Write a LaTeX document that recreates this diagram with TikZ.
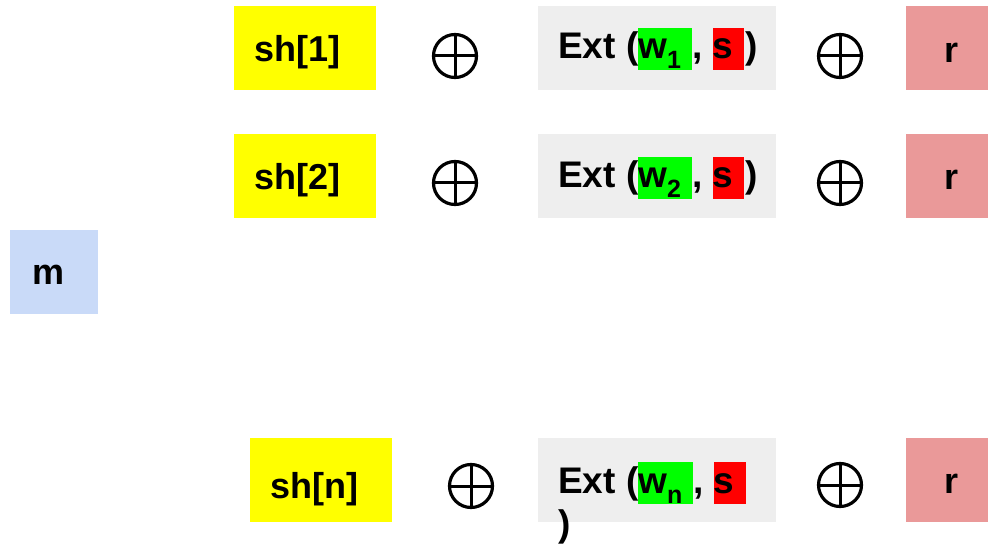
\documentclass[tikz,border=0pt]{standalone}
\usepackage{fontspec}
\setmainfont{Liberation Sans}

\definecolor{shyellow}{HTML}{FFFF00}
\definecolor{mblue}{HTML}{C9DAF8}
\definecolor{extgray}{HTML}{EEEEEE}
\definecolor{rpink}{HTML}{EA9999}
\definecolor{wgreen}{HTML}{00FF00}
\definecolor{sred}{HTML}{FF0000}

% highlighted run of text (zero padding, fixed line height)
\newcommand{\hlrun}[2]{{\setlength{\fboxsep}{0pt}\colorbox{#1}{\rule[-11pt]{0pt}{42pt}#2}}}
% lowered subscript
\newcommand{\lowsub}[1]{\raisebox{-10pt}{\fontsize{25}{25}\selectfont #1}}
% one Ext(...) expression
\newcommand{\extof}[1]{Ext (\hlrun{wgreen}{w\lowsub{#1}\hspace{11pt}}, \hlrun{sred}{s\hspace{11pt}}\hspace{1pt})}

\tikzset{
  panel/.style={rectangle, inner sep=0pt, minimum height=84pt},
  shbox/.style={panel, fill=shyellow, minimum width=142pt},
  extbox/.style={panel, fill=extgray, minimum width=238pt},
  rbox/.style={panel, fill=rpink, minimum width=82pt},
  mbox/.style={panel, fill=mblue, minimum width=88pt},
  lbl/.style={anchor=base west, inner sep=0pt, font=\fontsize{36}{43}\selectfont\bfseries},
  extlbl/.style={lbl, font=\fontsize{37}{44}\selectfont\bfseries},
  xorop/.style={circle, draw, line width=3.2pt, minimum size=43pt, inner sep=0pt,
    path picture={
      \draw[line width=3pt] (path picture bounding box.north) -- (path picture bounding box.south)
        (path picture bounding box.west) -- (path picture bounding box.east);
    }},
}

\begin{document}
\begin{tikzpicture}[x=1pt,y=-1pt]
\useasboundingbox (0,0) rectangle (988,545);

% message block
\node[mbox] (mb) at (54,272) {};
\node[lbl] (mt) at (32,285) {m};

% row 1
\node[shbox] (sh1) at (305,48) {};
\node[lbl] (sh1t) at (254,62) {sh[1]};
\node[xorop] (x1a) at (455,56) {};
\node[extbox] (ext1) at (657,48) {};
\node[extlbl] (ext1t) at (558,59) {\extof{1}};
\node[xorop] (x1b) at (840,56) {};
\node[rbox] (r1) at (947,48) {};
\node[lbl] (r1t) at (944,63) {r};

% row 2
\node[shbox] (sh2) at (305,176) {};
\node[lbl] (sh2t) at (254,190) {sh[2]};
\node[xorop] (x2a) at (455,183) {};
\node[extbox] (ext2) at (657,176) {};
\node[extlbl] (ext2t) at (558,188) {\extof{2}};
\node[xorop] (x2b) at (840,183) {};
\node[rbox] (r2) at (947,176) {};
\node[lbl] (r2t) at (944,190) {r};

% row n
\node[shbox] (shn) at (321,480) {};
\node[lbl] (shnt) at (270,498) {sh[n]};
\node[xorop] (xna) at (471,486) {};
\node[extbox] (extn) at (657,480) {};
\node[extlbl] (extnt) at (558,493) {Ext (\hlrun{wgreen}{w\lowsub{n}\hspace{11pt}}, \hlrun{sred}{s\hspace{11pt}}};
\node[extlbl] (extnc) at (558,536) {)};
\node[xorop] (xnb) at (840,485) {};
\node[rbox] (rn) at (947,480) {};
\node[lbl] (rnt) at (944,493) {r};
\end{tikzpicture}
\end{document}
